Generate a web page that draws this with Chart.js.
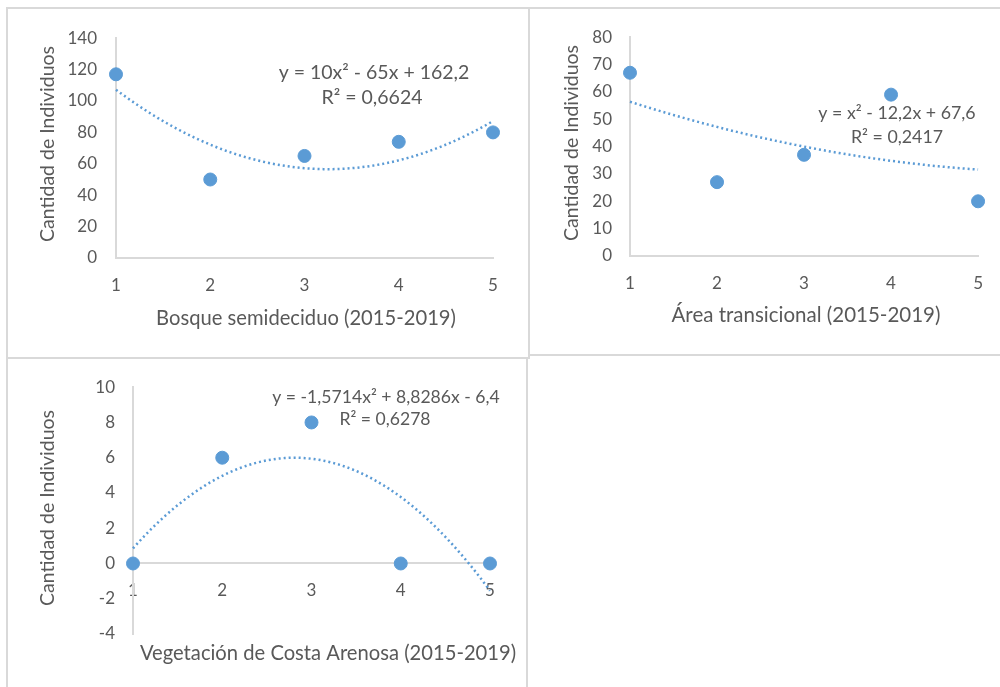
<!DOCTYPE html>
<html>
<head>
<meta charset="utf-8">
<script src="https://cdn.jsdelivr.net/npm/chart.js@4"></script>
<style>
  body { margin: 0; background: #fff; width: 1000px; height: 687px; position: relative; overflow: hidden; }
  .rule { position: absolute; background: #d9d9d9; }
  .box { position: absolute; }
</style>
</head>
<body>
<!-- table borders -->
<div class="rule" style="left:6px;top:7px;width:994px;height:2px"></div>
<div class="rule" style="left:6px;top:7px;width:2px;height:680px"></div>
<div class="rule" style="left:528px;top:7px;width:2px;height:350px"></div>
<div class="rule" style="left:6px;top:357px;width:524px;height:2px"></div>
<div class="rule" style="left:528px;top:354px;width:472px;height:2px"></div>
<div class="rule" style="left:526px;top:357px;width:2px;height:330px"></div>

<div class="box" style="left:8px;top:9px;width:519px;height:347px"><canvas id="bosque"></canvas></div>
<div class="box" style="left:530px;top:9px;width:470px;height:345px"><canvas id="area"></canvas></div>
<div class="box" style="left:8px;top:359px;width:518px;height:328px"><canvas id="costa"></canvas></div>

<script>
(function() {
  // data
  const years = [1, 2, 3, 4, 5];
  const bosque = [117, 50, 65, 74, 80];
  const area = [67, 27, 37, 59, 20];
  const costa = [0, 6, 8, 0, 0];

  // trendline coefficients (a, b, c) shown on the charts
  const bosqueFit = [10, -65, 162.2];
  const areaFit = [1, -12.2, 67.6];
  const costaFit = [-1.5714, 8.8286, -6.4];

  const blue = '#5b9bd5';
  const grey = '#595959';
  const axisGrey = '#d9d9d9';
  const font = 'Lato';

  function points(vals) {
    return years.map((x, i) => ({ x: x, y: vals[i] }));
  }

  function trend(c) {
    const pts = [];
    for (let i = 0; i <= 80; i++) {
      const x = 1 + i * 0.05;
      pts.push({ x: x, y: c[0] * x * x + c[1] * x + c[2] });
    }
    return pts;
  }

  // draws axis titles and equation labels
  function texts(items) {
    return {
      id: 'texts',
      afterDraw(chart) {
        const ctx = chart.ctx;
        ctx.save();
        ctx.fillStyle = grey;
        ctx.textAlign = 'center';
        ctx.textBaseline = 'middle';
        items.forEach(t => {
          ctx.font = t.size + 'px ' + font;
          ctx.save();
          ctx.translate(t.x, t.y);
          if (t.rotate) ctx.rotate(-Math.PI / 2);
          ctx.fillText(t.text, 0, 0);
          ctx.restore();
        });
        ctx.restore();
      }
    };
  }

  function makeChart(id, vals, fit, y, layout, items) {
    const xScale = {
      type: 'linear', min: 1, max: 5,
      grid: { drawOnChartArea: false, drawTicks: false },
      border: { color: axisGrey, width: 2 },
      ticks: { stepSize: 1, padding: layout.xPad, color: grey, font: { family: font, size: 17 } }
    };
    if (layout.xAtZero) {
      xScale.position = { y: 0 };
    } else {
      xScale.afterFit = s => { s.height = layout.xHeight; };
    }
    new Chart(document.getElementById(id), {
      type: 'scatter',
      data: {
        datasets: [
          {
            data: points(vals),
            backgroundColor: blue,
            borderColor: blue,
            pointRadius: 6.5,
            pointHoverRadius: 6.5,
            clip: false,
            order: 0
          },
          {
            type: 'line',
            data: trend(fit),
            showLine: true,
            borderColor: blue,
            borderWidth: 2.5,
            borderDash: [2, 3],
            pointRadius: 0,
            fill: false,
            clip: false,
            order: 1
          }
        ]
      },
      options: {
        responsive: true,
        maintainAspectRatio: false,
        animation: false,
        devicePixelRatio: 1,
        layout: { padding: layout.padding },
        plugins: { legend: { display: false }, tooltip: { enabled: false } },
        scales: {
          x: xScale,
          y: {
            min: y[0], max: y[1],
            grid: { drawOnChartArea: false, drawTicks: false },
            border: { color: axisGrey, width: 2 },
            ticks: { stepSize: y[2], padding: layout.yPad, color: grey, font: { family: font, size: 17 } },
            afterFit: s => { s.width = layout.yWidth; }
          }
        }
      },
      plugins: [texts(items)]
    });
  }

  makeChart('bosque', bosque, bosqueFit, [0, 140, 20],
    { padding: { top: 24, right: 34 }, yWidth: 108, xHeight: 98, xPad: 17, yPad: 19 },
    [
      { text: 'Cantidad de Individuos', x: 40, y: 135, size: 19.5, rotate: true },
      { text: 'Bosque semideciduo (2015-2019)', x: 298, y: 309, size: 20.2 },
      { text: 'y = 10x² - 65x + 162,2', x: 366, y: 64, size: 19.5 },
      { text: 'R² = 0,6624', x: 364, y: 89, size: 19.5 }
    ]);

  makeChart('area', area, areaFit, [0, 80, 10],
    { padding: { top: 24, right: 17 }, yWidth: 100, xHeight: 98, xPad: 17, yPad: 18 },
    [
      { text: 'Cantidad de Individuos', x: 42, y: 134, size: 19.5, rotate: true },
      { text: 'Área transicional (2015-2019)', x: 276, y: 306, size: 20.5 },
      { text: 'y = x² - 12,2x + 67,6', x: 367, y: 104, size: 17.8 },
      { text: 'R² = 0,2417', x: 367, y: 128, size: 17.8 }
    ]);

  makeChart('costa', costa, costaFit, [-4, 10, 2],
    { padding: { top: 24, right: 36, bottom: 53 }, yWidth: 125, xAtZero: true, xPad: 17, yPad: 18 },
    [
      { text: 'Cantidad de Individuos', x: 40, y: 149, size: 19.5, rotate: true },
      { text: 'Vegetación de Costa Arenosa (2015-2019)', x: 320, y: 294, size: 20.2 },
      { text: 'y = -1,5714x² + 8,8286x - 6,4', x: 378, y: 38, size: 17.6 },
      { text: 'R² = 0,6278', x: 377, y: 60, size: 17.6 }
    ]);
})();
</script>
</body>
</html>
